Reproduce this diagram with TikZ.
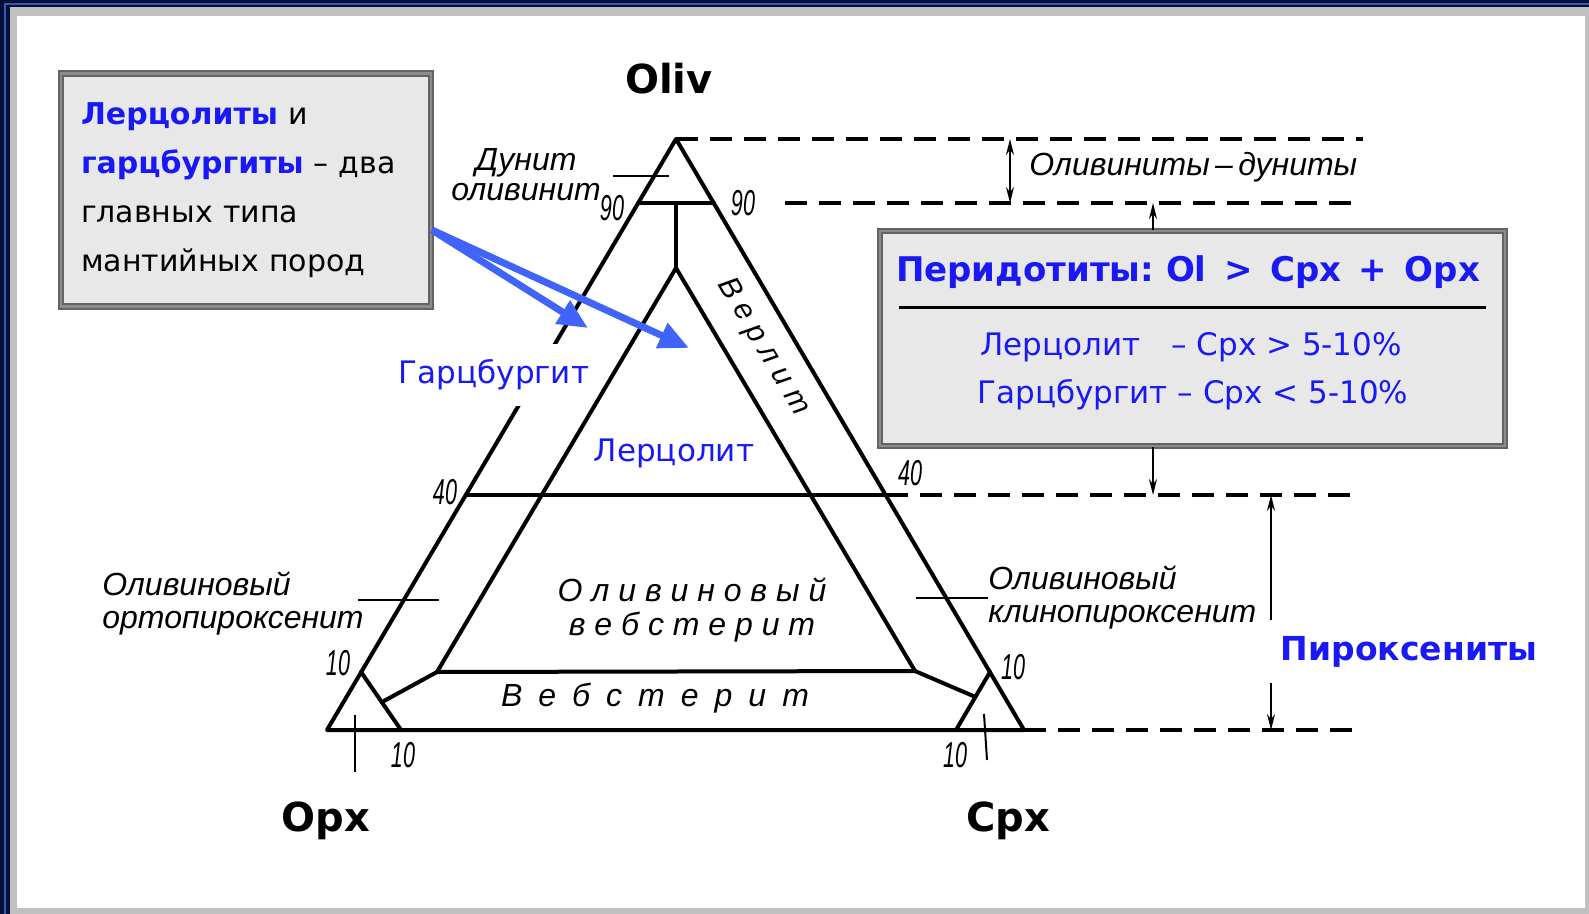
\documentclass[tikz,border=0pt]{standalone}
\usepackage{fontspec}
\setmainfont{DejaVu Sans}
\newfontfamily\gost{Liberation Sans}
\newfontfamily\gostnum[FakeStretch=0.6]{Liberation Sans}
\newcommand\widesp{\spaceskip=8pt\relax}
\usepackage{tikz}
\usetikzlibrary{calc,arrows.meta,positioning}
\definecolor{txtblue}{RGB}{25,25,245}
\definecolor{arrblue}{RGB}{64,100,250}
\definecolor{boxfill}{RGB}{232,232,232}
\definecolor{boxedge}{RGB}{100,100,100}
\definecolor{pagegrey}{RGB}{192,192,192}
\definecolor{navy}{RGB}{5,15,60}
\definecolor{navyhi}{RGB}{60,90,170}
\tikzset{
  tri/.style={line width=2pt, line cap=round, line join=round},
  lead/.style={line width=1pt},
  dline/.style={line width=1.6pt, dash pattern=on 11pt off 6pt},
  dim/.style={line width=1pt, -{Stealth[length=8pt,width=4pt]}},
  dimb/.style={line width=1pt, {Stealth[length=8pt,width=4pt]}-{Stealth[length=8pt,width=4pt]}},
  blu/.style={line width=3.5pt, draw=arrblue, -{Triangle[length=15pt,width=13pt]}},
  gbox/.style={draw=boxedge, fill=boxfill, line width=0.9pt, double=black!45, double distance=1.4pt, inner sep=0pt},
  lbl/.style={text=txtblue, font=\fontsize{15.5}{18}\selectfont, inner sep=0pt},
  drw/.style={font=\gost\itshape\fontsize{16}{16.5}\selectfont, inner sep=0pt},
  num/.style={font=\gostnum\itshape\fontsize{18}{18}\selectfont, inner sep=0pt},
  vtx/.style={font=\bfseries\fontsize{20}{20}\selectfont},
}
\begin{document}
\begin{tikzpicture}[x=0.5pt, y=-0.5pt]
  \useasboundingbox (0,0) rectangle (1589,914);
  % frame
  \fill[pagegrey] (0,0) rectangle (1589,914);
  \fill[navy] (0,0) rectangle (1589,7);
  \fill[navy] (0,0) rectangle (10,914);
  \draw[navyhi, line width=0.8pt] (5,914) -- (5,4) -- (1589,4);
  \fill[white] (17,16) rectangle (1585,908);

  % corners and points of the diagram
  \coordinate (ol) at (676,139);
  \coordinate (opx) at (327,730);
  \coordinate (cpx) at (1024,730);
  \coordinate (l90) at (638,203);
  \coordinate (m90) at (676,203);
  \coordinate (r90) at (714,203);
  \coordinate (in) at (676,268);
  \coordinate (l40) at (466,495);
  \coordinate (r40) at (886,495);
  \coordinate (wl) at (437,672);
  \coordinate (wr) at (915,671);
  \coordinate (l10) at (361,672);
  \coordinate (b10l) at (401,730);
  \coordinate (r10) at (990,672);
  \coordinate (b10r) at (956,730);

  \draw[tri] (opx) -- (ol) -- (cpx) -- cycle;
  \draw[tri] (l90) -- (r90);
  \draw[tri] (m90) -- (in);
  \draw[tri] (wl) -- (in) -- (wr);
  \draw[tri] (wl) -- (wr);
  \draw[tri] (l40) -- (r40);
  \draw[tri] (l10) -- (b10l);
  \draw[tri] (r10) -- (b10r);
  \draw[tri] (wl) -- ($(l10)!0.52!(b10l)$);
  \draw[tri] (wr) -- ($(r10)!0.43!(b10r)$);

  % dashed levels
  \coordinate (s90) at (785,203);
  \foreach \a/\b in {ol/1363,s90/1358,r40/1360,cpx/1358}
    \draw[dline] (\a) -- (\a -| \b,0);

  % leaders and ticks
  \coordinate (du1) at (613,176);   \coordinate (du2) at (669,176);
  \coordinate (op1) at (358,600);   \coordinate (op2) at (439,600);
  \coordinate (cp1) at (916,598);   \coordinate (cp2) at (988,598);
  \coordinate (tk1) at (355,715);   \coordinate (tk2) at (355,772);
  \coordinate (tk3) at (984,714);   \coordinate (tk4) at (987,760);
  \foreach \a/\b in {du1/du2,op1/op2,cp1/cp2,tk1/tk2,tk3/tk4}
    \draw[lead] (\a) -- (\b);

  % corner labels
  \node[vtx] (oliv) at (669,79) {Oliv};
  \node[vtx] (opxl) at (326,821) {Opx};
  \node[vtx] (cpxl) at (1008,821) {Cpx};

  % scale numbers
  \foreach \x/\y/\t/\n in {612/208/90/a,743/203/90/b,445/492/40/c,910/473/40/d,
                          338/663/10/e,403/755/10/f,1013/667/10/g,955/755/10/h}
    \node[num] (n\n) at (\x,\y) {\t};

  % field names
  \node[drw, align=center, font=\gost\itshape\fontsize{16}{15}\selectfont] (dun) at (526,175) {Дунит\\оливинит};
  \node[drw, align=left, anchor=west] (oop) at (102,603) {Оливиновый\\ортопироксенит};
  \node[drw, align=left, anchor=west] (ocp) at (988,597) {Оливиновый\\клинопироксенит};
  \node[drw, align=center, font=\gost\itshape\fontsize{16}{17}\selectfont] (owb) at (692,610) {О л и в и н о в ы й\\в е б с т е р и т};
  \node[drw, font=\gost\itshape\fontsize{16}{16}\selectfont\widesp] (web) at (655,698) {В е б с т е р и т};
  \node[drw, rotate=-59.5, font=\gost\itshape\fontsize{15}{15}\selectfont] (wer) at (763,347) {В е р л и т};
  \node[drw, anchor=west] (odu) at (1029,167) {Оливиниты\,–\,дуниты};

  \node[lbl, fill=white, inner ysep=8pt, inner xsep=1pt] (harz) at (494,375) {Гарцбургит};
  \node[lbl] (lherz) at (674,453) {Лерцолит};
  \node[lbl, font=\bfseries\fontsize{16.5}{18}\selectfont] (pyx) at (1409,652) {Пироксениты};

  % dimension arrows
  \coordinate (od1) at (1010,139);  \coordinate (od2) at (1010,203);
  \draw[dimb] (od1) -- (od2);

  % boxes
  \node[gbox, minimum width=185pt, minimum height=116.5pt, text width=165pt, align=left,
        font=\fontsize{15}{24.5}\selectfont] (lbox) at (246,190)
    {\textcolor{txtblue}{\textbf{Лерцолиты}} и\\
     \textcolor{txtblue}{\textbf{гарцбургиты}} – два\\
     главных типа\\
     мантийных пород};
  \node[gbox, minimum width=312.5pt, minimum height=107.5pt] (rbox) at (1192.5,338.5) {};
  \node[lbl, font=\bfseries\fontsize{17}{18}\selectfont] (peri) at (1188,272) {Перидотиты:\ Ol \,>\, Cpx \,+\, Opx};
  \draw[line width=1.5pt] (rbox.west |- 0,308) ++(20,0) -- ([xshift=-10pt]rbox.east |- 0,308);
  \node[lbl] (ln1) at (1191,347) {Лерцолит\quad – Cpx > 5-10\%};
  \node[lbl] (ln2) at (1193,395) {Гарцбургит – Cpx < 5-10\%};

  \coordinate (p90) at (1153,203);
  \coordinate (p40) at (1153,495);
  \draw[dim] (rbox.north -| p90) -- (p90);
  \draw[dim] (rbox.south -| p40) -- (p40);
  \coordinate (xa) at (1271,620);   \coordinate (x40) at (1271,495);
  \coordinate (xb) at (1271,683);   \coordinate (x0) at (1271,730);
  \draw[dim] (xa) -- (x40);
  \draw[dim] (xb) -- (x0);

  % blue pointers
  \coordinate (src) at (lbox.east |- 0,230);
  \coordinate (tipH) at (588,328);
  \coordinate (tipL) at (689,348);
  \draw[blu] (src) -- (tipH);
  \draw[blu] (src) -- (tipL);
\end{tikzpicture}
\end{document}
